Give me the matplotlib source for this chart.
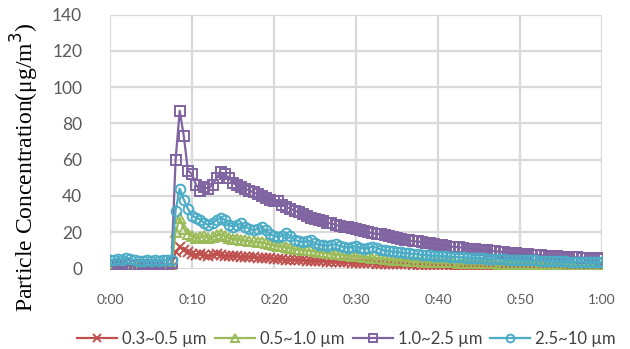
import numpy as np
import matplotlib.pyplot as plt

# sample times (minutes), one reading every 30 s
t = np.arange(0, 60.5, 0.5)

pm03_05 = [0.5, 0.5, 0.5, 0.5, 0.5, 0.5, 0.5, 0.5, 0.5, 0.5, 0.5, 0.5, 0.5, 0.5, 0.5, 1,
           9, 12, 10, 9, 8, 7.5, 8, 7.5, 7, 7.5,
           8, 7.5, 7, 7, 7, 6.8, 6.6, 6.5, 6.4, 6.2,
           6, 6, 5.8, 5.6, 5.5, 5.4, 5.2, 5, 5, 4.8,
           4.7, 4.6, 4.4, 4.3, 4.2, 4.1, 4, 3.9, 3.8, 3.7,
           3.6, 3.5, 3.4, 3.3, 3.2,
           3.1, 3.0, 3.0, 2.9, 2.8, 2.8, 2.7, 2.6, 2.6, 2.5,
           2.4, 2.4, 2.3, 2.2, 2.2, 2.1, 2.0, 2.0, 1.9, 1.9,
           1.8, 1.8, 1.7, 1.7, 1.6, 1.6, 1.5, 1.5, 1.4, 1.4,
           1.3, 1.3, 1.3, 1.2, 1.2, 1.2, 1.1, 1.1, 1.1, 1.0,
           1.0, 1.0, 0.9, 0.9, 0.9, 0.9, 0.8, 0.8, 0.8, 0.8,
           0.8, 0.7, 0.7, 0.7, 0.7, 0.7, 0.6, 0.6, 0.6, 0.6]

pm05_10 = [1, 1, 1.2, 1, 1, 1, 1.2, 1, 1, 1, 1, 1.2, 1, 1, 1, 1.5,
           20, 28, 22, 19, 18, 17, 17.5, 18, 17, 17.5,
           18.5, 19, 18, 17, 16.5, 16.5, 16, 15.5, 15, 15,
           14.5, 14.5, 14, 13.5, 13, 12.5, 12.5, 12, 11.5, 11,
           11, 10.5, 10, 10, 9.5, 9, 9, 8.5, 8.5, 8,
           8, 7.5, 7.5, 7, 7, 6.8, 6.5, 6.3, 6, 5.8,
           5.6, 5.4, 5.2, 5, 4.8, 4.7, 4.5, 4.4, 4.2, 4.1,
           4, 3.9, 3.8, 3.7, 3.6,
           3.5, 3.5, 3.4, 3.4, 3.3, 3.3, 3.2, 3.2, 3.1, 3.1,
           3.0, 3.0, 2.9, 2.9, 2.8, 2.8, 2.7, 2.7, 2.6, 2.6,
           2.5, 2.5, 2.5, 2.4, 2.4, 2.4, 2.3, 2.3, 2.3, 2.2,
           2.2, 2.2, 2.1, 2.1, 2.1, 2.0, 2.0, 2.0, 2.0, 2.0]

pm10_25 = [1.5, 2, 2, 1.8, 2, 2, 1.5, 2, 2, 2, 1.8, 2, 2, 2.2, 2, 3,
           60, 87, 73, 54, 52, 46, 43, 45, 44, 46,
           50, 53, 52, 50, 47, 46, 45, 44, 43, 42,
           41, 40, 39, 38, 37.5, 37, 35, 34, 33, 32,
           31, 30, 29, 28, 27.5, 27, 26, 25, 25, 24,
           23.5, 23, 23, 22.5, 22, 21, 20.5, 20, 19.5, 19,
           19, 18.5, 18, 17.5, 17, 16.5, 16, 15.5, 15, 15,
           14.5, 14, 14, 13.5, 13, 13, 12.5, 12, 12, 11.8,
           11.5, 11, 11, 10.8, 10.5, 10.2, 10, 9.8, 9.5, 9.3,
           9, 8.8, 8.6, 8.5, 8.3, 8, 7.9, 7.7, 7.5, 7.3,
           7.2, 7, 6.9, 6.8, 6.6, 6.5, 6.4, 6.3, 6.2, 6.1,
           6, 5.9, 5.8, 5.7, 5.5]

pm25_10 = [4.5, 5, 5.5, 5, 6, 5.5, 4.5, 4, 4, 4.5, 4, 4.5, 4, 5, 4.5, 5,
           32, 44, 38, 33, 29, 28, 27, 25, 24, 25,
           27, 28, 27, 24, 23, 24, 25, 23, 22, 21,
           22, 23, 21, 19, 18, 17.5, 18, 19.5, 18, 16,
           15, 14.5, 15, 15.5, 14, 13, 13, 12.5, 13, 13.5,
           12.5, 12, 11.5, 12, 12.5, 11.5, 11, 11.5, 12, 11.5,
           10.5, 10, 9.5, 9.5, 9, 9, 8.5, 8.5, 8, 8,
           7.5, 7.5, 7.5, 7, 7, 7, 6.8, 6.5, 6.5, 6.3,
           6.2, 6, 6, 6, 5.8, 5.6, 5.5, 5.4, 5.5, 5.3,
           5.2, 5, 5, 5, 4.8, 4.8, 4.6, 4.5, 4.5, 4.4,
           4.3, 4.2, 4.2, 4, 4, 4, 3.9, 3.8, 3.8, 3.7,
           3.6, 3.6, 3.5, 3.5, 3.4]

series = [
    (pm03_05, '0.3~0.5 µm', '#C0504D', 'x'),
    (pm05_10, '0.5~1.0 µm', '#9BBB59', '^'),
    (pm10_25, '1.0~2.5 µm', '#8064A2', 's'),
    (pm25_10, '2.5~10 µm', '#4BACC6', 'o'),
]

xticks = [0, 10, 20, 30, 40, 50, 60]
xlabels = ['0:00', '0:10', '0:20', '0:30', '0:40', '0:50', '1:00']
yticks = [0, 20, 40, 60, 80, 100, 120, 140]

fig = plt.figure(figsize=(6.3, 3.49), dpi=100)
ax = fig.add_axes([0.1746, 0.2304, 0.781, 0.728])

lines = []
for vals, lab, col, mk in series:
    ln, = ax.plot(t, vals, color=col, lw=1.6, marker=mk, ms=7,
                  mfc='none', mec=col, mew=1.4, label=lab)
    lines.append(ln)

ax.set_xlim(0, 60)
ax.set_ylim(0, 140)
ax.set_xticks(xticks)
ax.set_xticklabels(xlabels)
ax.set_yticks(yticks)
ax.grid(True, color='#D9D9D9', lw=1.6)
ax.set_axisbelow(True)
for s in ax.spines.values():
    s.set_visible(False)
ax.tick_params(length=0, colors='#595959')
ax.tick_params(axis='y', labelsize=12.5, pad=20)
ax.tick_params(axis='x', labelsize=10, pad=18)
for lbl in ax.get_xticklabels() + ax.get_yticklabels():
    lbl.set_family('Lato')

fig.text(0.04, 0.52, 'Particle Concentration(μg/m$^3$)', family='Liberation Serif',
         fontsize=17, rotation=90, ha='center', va='center')

leg = fig.legend(loc='center', bbox_to_anchor=(0.55, 0.03), ncol=4, frameon=False,
                 prop={'family': 'Lato', 'size': 12}, handlelength=2.4,
                 columnspacing=0.5, handletextpad=0.3, markerscale=0.8)
for txt in leg.get_texts():
    txt.set_color('#404040')

fig.savefig('out.png', dpi=100)
